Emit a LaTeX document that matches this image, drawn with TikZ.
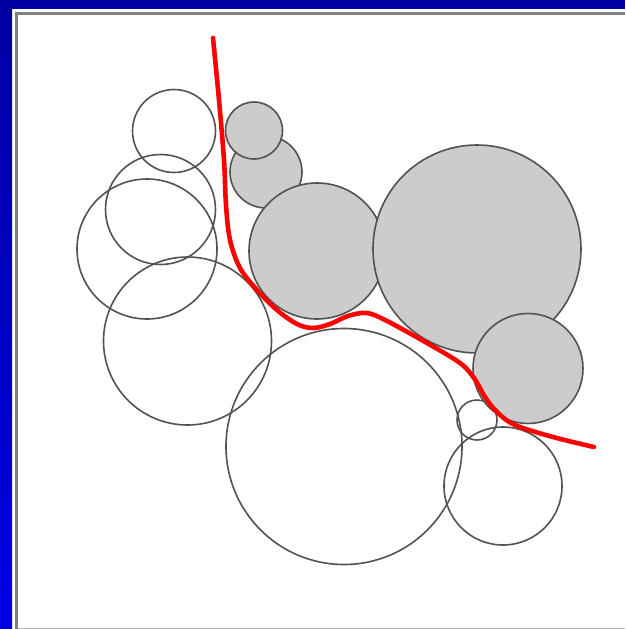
\documentclass[tikz,border=0pt]{standalone}
\begin{document}
\begin{tikzpicture}[x=1pt,y=-1pt,
  ring/.style={circle,draw=ringc,line width=1.6pt,inner sep=0pt,outer sep=0pt},
  filled/.style={ring,fill=fillc},
  path line/.style={draw=red,line width=4.6pt,line cap=round,line join=round}]
\definecolor{bluedark}{RGB}{0,0,164}
\definecolor{bluelight}{RGB}{0,0,228}
\definecolor{bandc}{RGB}{128,128,128}
\definecolor{bottomc}{RGB}{180,180,180}
\definecolor{ringc}{RGB}{82,82,82}
\definecolor{fillc}{RGB}{204,204,204}
\useasboundingbox (0,0) rectangle (625,629);
% frame
\fill[white] (0,0) rectangle (625,629);
\fill[bluedark] (0,0) rectangle (625,9);
\shade[top color=bluedark,bottom color=bluelight] (0,0) rectangle (12,629);
\fill[bandc] (15,12) rectangle (625,15);
\fill[bandc] (15,12) rectangle (18,629);
\fill[bottomc] (18,627.6) rectangle (625,629);
% gray filled circles
\node[filled,minimum size=72pt] (gb) at (266,172) {};
\node[filled,minimum size=57pt] (ga) at (254,130.5) {};
\node[filled,minimum size=136pt] (gc) at (317,251) {};
\node[filled,minimum size=208pt] (gd) at (477,249) {};
\node[filled,minimum size=110pt] (ge) at (528,368.5) {};
% open circles
\node[ring,minimum size=83pt] (o1) at (174,131) {};
\node[ring,minimum size=110pt] (o2) at (160.5,209.5) {};
\node[ring,minimum size=140pt] (o3) at (147,249) {};
\node[ring,minimum size=168pt] (o4) at (187.5,341) {};
\node[ring,minimum size=236pt] (o5) at (344,446.5) {};
\node[ring,minimum size=40pt] (o6) at (477,420) {};
\node[ring,minimum size=118pt] (o7) at (503,486) {};
% red path
\draw[path line] plot[smooth,tension=0.55] coordinates {
 (213,38) (219,100) (224,160) (226,205) (230,240) (240,268) (257,290)
 (277,310) (297,324) (313,328) (330,324) (348,316) (367,313) (387,321)
 (427,343) (460,363) (474,378) (485,397) (497,412) (515,425) (553,437) (594,447)};
\end{tikzpicture}
\end{document}
